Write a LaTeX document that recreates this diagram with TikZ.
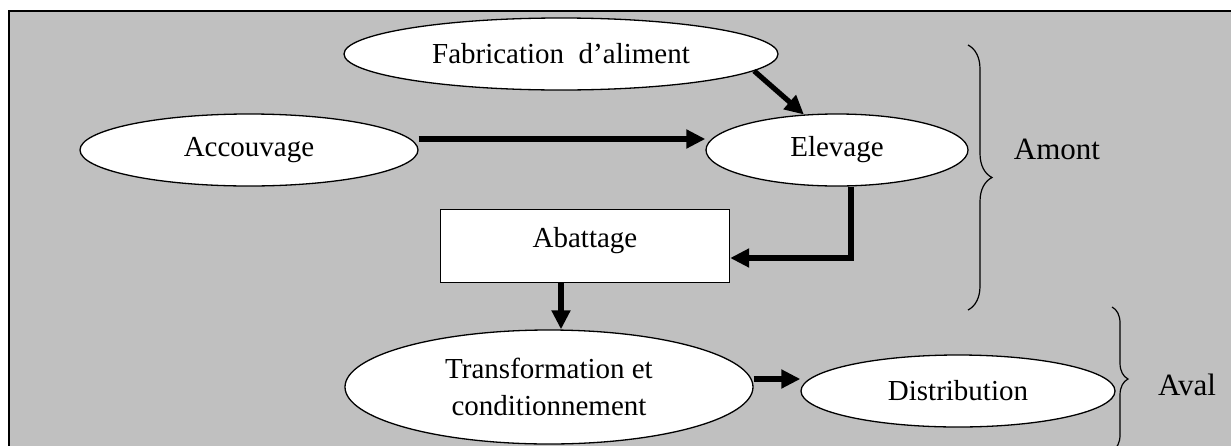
\documentclass[tikz,border=0pt]{standalone}
\usepackage{fontspec}
\setmainfont{Liberation Serif}
\usetikzlibrary{shapes.geometric, arrows.meta, calc, decorations.pathreplacing}
\definecolor{bgGray}{RGB}{192,192,192}

\begin{document}
\begin{tikzpicture}[
	x=0.5pt, y=-0.5pt,
	stage/.style={ellipse, draw, fill=white, line width=0.65pt, inner sep=0pt, align=center, font=\fontsize{14.5}{18.5}\selectfont},
	stageBox/.style={rectangle, draw, fill=white, line width=0.65pt, inner sep=0pt, text depth=9pt, font=\fontsize{14.5}{18.5}\selectfont},
	flow/.style={line width=2.6pt, -{Triangle[length=9.5pt, width=9pt]}},
	groupBrace/.style={decorate, line width=0.6pt},
	side/.style={font=\fontsize{15.5}{18}\selectfont}
	]
	
	\useasboundingbox (0, 0) rectangle (1231, 445);
	\clip (0, 0) rectangle (1231, 445);
	\draw[fill=bgGray, line width=0.7pt] (9, 11) rectangle (1260, 470);
	
	% Stages
	\node[stage, minimum width=217pt, minimum height=36pt] (fab) at (561, 54) {Fabrication\ \ d’aliment};
	\node[stage, minimum width=169pt, minimum height=36pt] (accouv) at (249, 150) {Accouvage};
	\node[stage, minimum width=131pt, minimum height=36pt] (elev) at (837, 150) {Elevage};
	\node[stageBox, minimum width=144.5pt, minimum height=36.5pt] (abat) at (585, 246) {Abattage};
	\node[stage, minimum width=204pt, minimum height=57pt] (transf) at (549, 387) {Transformation et\\conditionnement};
	\node[stage, minimum width=157pt, minimum height=36pt] (distrib) at (958, 391) {Distribution};
	
	% Flows
	\draw[flow] ($(accouv.east) + (0, -11)$) -- ($(elev.west) + (0, -11)$);
	\draw[flow] (fab.-5) -- (elev.133);
	\draw[flow] ($(elev.south) + (14, 0)$) |- ($(abat.east) + (0, 12)$);
	\draw[flow] ($(abat.south) + (-24, 0)$) coordinate (A1) -- (A1 |- transf.north);
	\draw[flow] ($(transf.east) + (0, -8)$) coordinate (T1) -- (T1 -| distrib.west);
	
	% Amont / Aval
	\coordinate (B1) at (968, 45);
	\coordinate (B2) at (968, 310);
	\draw[groupBrace, decoration={brace, amplitude=12pt}] (B1) -- (B2);
	\node[side] (amont) at (1057, 149) {Amont};
	
	\coordinate (B3) at (1112, 307);
	\coordinate (B4) at (1112, 451);
	\draw[groupBrace, decoration={brace, amplitude=8pt}] (B3) -- (B4);
	\node[side] (aval) at (1187, 385) {Aval};
\end{tikzpicture}
\end{document}
